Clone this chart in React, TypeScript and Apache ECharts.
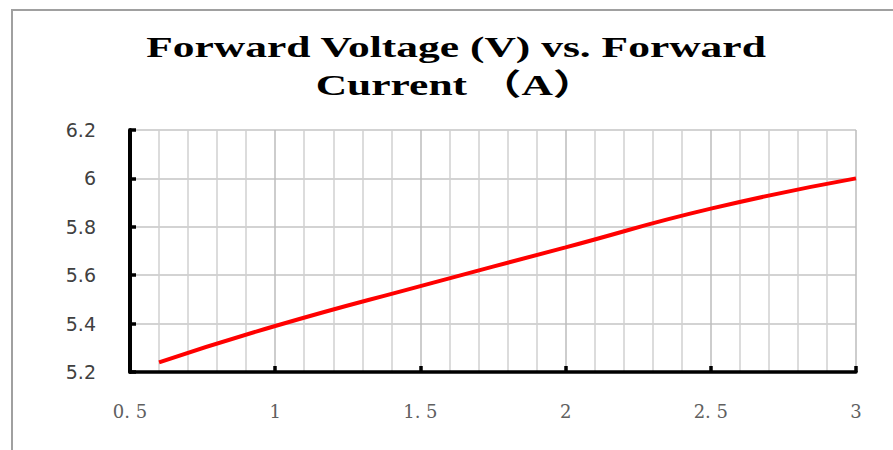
import React, { useEffect, useRef } from "react";
import * as echarts from "echarts";

const titleLines = ["Forward Voltage (V) vs. Forward", "Current （A）"];
const currentA = [0.6, 1.0, 1.5, 2.0, 2.5, 3.0];
const voltageV = [5.24, 5.39, 5.555, 5.715, 5.875, 6.0];
const xRange = [0.5, 3];
const yRange = [5.2, 6.2];

export default function App() {
  const ref = useRef<HTMLDivElement>(null);
  useEffect(() => {
    document.body.style.margin = "0";
    const chart = echarts.init(ref.current!, null, { renderer: "svg" });
    const points = currentA.map((c, i) => [c, voltageV[i]]);
    chart.setOption({
      animation: false,
      backgroundColor: "#ffffff",
      graphic: [
        {
          type: "polyline",
          shape: { points: [[12, 450], [12, 10], [893, 10]] },
          style: { stroke: "#a0a0a0", lineWidth: 2, fill: "none" },
        },
        ...titleLines.map((t, i) => ({
          type: "text",
          x: 456,
          y: 47 + i * 38,
          scaleX: 1.45,
          style: {
            text: t,
            fontFamily: "'Liberation Serif', 'Noto Sans CJK SC', serif",
            fontWeight: "bold",
            fontSize: 30,
            fill: "#000",
            textAlign: "center",
            textVerticalAlign: "middle",
          },
        })),
      ],
      grid: { left: 130, right: 37, top: 130, bottom: 78 },
      xAxis: {
        type: "value",
        min: xRange[0],
        max: xRange[1],
        interval: 0.5,
        axisLine: { show: true, onZero: false, lineStyle: { color: "#000", width: 3.5 } },
        axisTick: { show: true, inside: true, length: 6, lineStyle: { color: "#000", width: 3.5 } },
        minorTick: { show: false, splitNumber: 5 },
        splitLine: { show: true, lineStyle: { color: "#bdbdbd", width: 1.5 } },
        minorSplitLine: { show: true, lineStyle: { color: "#d0d0d0", width: 1.5 } },
        axisLabel: {
          margin: 30,
          fontFamily: "'DejaVu Serif', serif",
          fontSize: 18,
          color: "#606060",
          formatter: (v: number) => String(v).replace(".", ". "),
        },
      },
      yAxis: {
        type: "value",
        min: yRange[0],
        max: yRange[1],
        interval: 0.2,
        axisLine: { show: true, onZero: false, lineStyle: { color: "#000", width: 4 } },
        axisTick: { show: true, inside: true, length: 6, lineStyle: { color: "#000", width: 3.5 } },
        splitLine: { show: true, lineStyle: { color: "#c4c4c4", width: 1.5 } },
        axisLabel: {
          margin: 34,
          fontFamily: "'DejaVu Sans', sans-serif",
          fontSize: 19,
          color: "#404040",
          formatter: (v: number) => String(Math.round(v * 10) / 10),
        },
      },
      series: [
        {
          type: "line",
          data: points,
          smooth: true,
          showSymbol: false,
          lineStyle: { color: "#ff0000", width: 4 },
        },
      ],
    });
    return () => chart.dispose();
  }, []);
  return <div ref={ref} style={{ width: 893, height: 450 }} />;
}
